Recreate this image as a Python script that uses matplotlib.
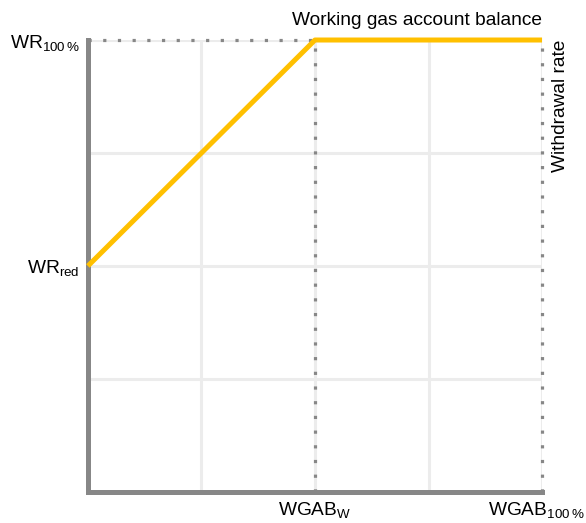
"""Withdrawal rate as a function of working gas account balance."""

import matplotlib

matplotlib.use("Agg")
import matplotlib.pyplot as plt
from matplotlib.transforms import offset_copy

plt.rcParams["font.family"] = ["Liberation Sans", "DejaVu Sans"]
plt.rcParams["mathtext.default"] = "regular"

# curve: balance share -> withdrawal rate share
balance = [0.0, 0.5, 1.0]
rate = [0.5, 1.0, 1.0]

grid_pos = [0.25, 0.5, 0.75, 1.0]
x_ticks = [0.5, 1.0]
x_labels = [r"WGAB$_{W}$", r"WGAB$_{100\,\%}$"]
y_ticks = [0.5, 1.0]
y_labels = [r"WR$_{red}$", r"WR$_{100\,\%}$"]

GRAY = "#878787"
ORANGE = "#FFC000"
FS = 13.8


def main() -> None:
    fig = plt.figure(figsize=(5.86, 5.23), dpi=100)
    ax = fig.add_axes([0.150, 0.0593, 0.775, 0.8642])

    for g in grid_pos:
        ax.axvline(g, color="#ececec", lw=2.2, zorder=0)
        ax.axhline(g, color="#ececec", lw=2.2, zorder=0)

    # dotted guides
    dots = dict(color=GRAY, lw=2.3, linestyle=(0, (1, 3.6)), zorder=1,
                clip_on=False)
    ax.plot([0, 0.5], [1, 1], **dots)
    ax.plot([0.5, 0.5], [0, 1], **dots)
    ax.plot([1, 1], [0, 1], **dots)

    ax.plot(balance, rate, color=ORANGE, lw=3.6, solid_capstyle="butt",
            zorder=3, clip_on=False)

    ax.set_xlim(0, 1)
    ax.set_ylim(0, 1)
    ax.set_xticks(x_ticks)
    ax.set_xticklabels(x_labels, fontsize=FS)
    ax.set_yticks(y_ticks)
    ax.set_yticklabels(y_labels, fontsize=FS)
    ax.tick_params(length=0, pad=6)

    last = ax.get_xticklabels()[-1]
    last.set_horizontalalignment("right")
    last.set_transform(offset_copy(last.get_transform(), fig=fig, x=43, y=0,
                                   units="dots"))

    for side in ("top", "right"):
        ax.spines[side].set_visible(False)
    for side in ("left", "bottom"):
        ax.spines[side].set_color(GRAY)
        ax.spines[side].set_linewidth(3.6)

    ax.text(1.0, 1.025, "Working gas account balance", transform=ax.transAxes,
            ha="right", va="bottom", fontsize=FS)
    ax.text(1.022, 1.0, "Withdrawal rate", transform=ax.transAxes,
            ha="left", va="top", rotation=90, fontsize=FS)

    fig.savefig("out.png", dpi=100)


if __name__ == "__main__":
    main()
